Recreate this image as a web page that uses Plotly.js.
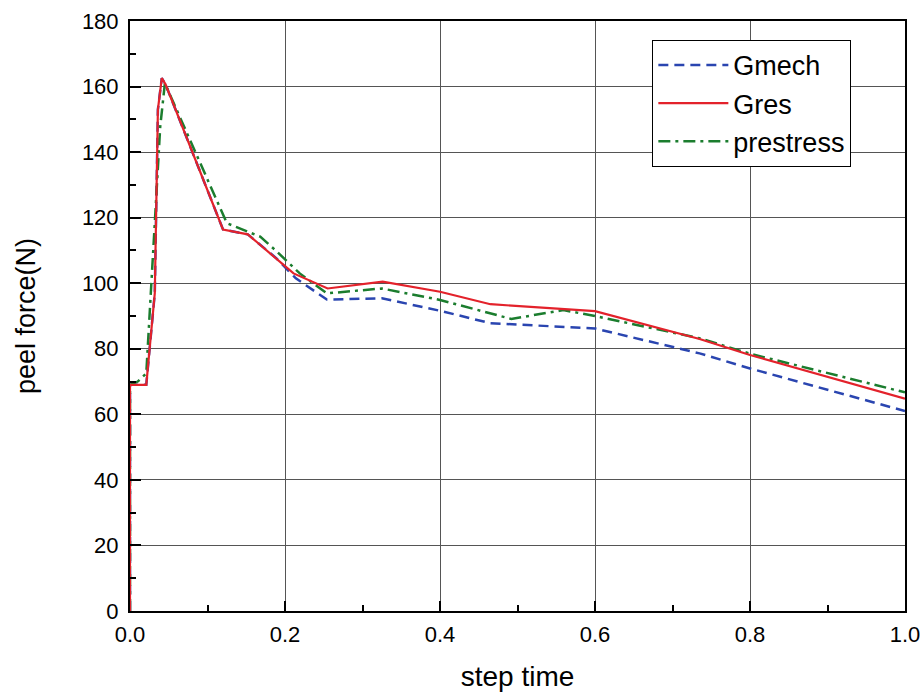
<!DOCTYPE html>
<html>
<head>
<meta charset="utf-8">
<script src="https://cdn.plot.ly/plotly-3.0.1.min.js"></script>
<style>html,body{margin:0;padding:0;background:#fff;}#chart{width:923px;height:693px;}</style>
</head>
<body>
<div id="chart"></div>
<script>
// Gmech (dashed blue)
const gmechX = [0, 0, 0.021, 0.032, 0.036, 0.041, 0.046, 0.12, 0.152, 0.189, 0.214, 0.254, 0.325, 0.4, 0.465, 0.6, 0.735, 0.8, 1.0];
const gmechY = [0, 69, 69, 97, 153, 162.6, 160.6, 116.4, 114.9, 107.6, 101.5, 95, 95.4, 91.6, 87.8, 86.2, 78.6, 74, 61];
// Gres (solid red)
const gresX = [0, 0, 0.021, 0.032, 0.036, 0.041, 0.046, 0.12, 0.152, 0.211, 0.255, 0.326, 0.4, 0.465, 0.6, 0.735, 0.8, 1.0];
const gresY = [0, 69, 69, 97, 153, 162.6, 160.6, 116.4, 114.9, 103, 98.4, 100.5, 97.4, 93.6, 91.5, 83, 78.1, 64.8];
// prestress (dash-dot green)
const preX = [0, 0, 0.01, 0.021, 0.039, 0.045, 0.125, 0.168, 0.188, 0.219, 0.254, 0.325, 0.4, 0.492, 0.559, 0.6, 0.735, 0.8, 1.0];
const preY = [0, 69, 70, 72.5, 147.8, 161, 118.3, 114.2, 110, 103, 96.9, 98.4, 94.9, 89.1, 91.8, 90, 83.2, 78.5, 66.7];

const xTicks = [0, 0.2, 0.4, 0.6, 0.8, 1.0];
const xTickText = ['0.0', '0.2', '0.4', '0.6', '0.8', '1.0'];
const yTicks = [0, 20, 40, 60, 80, 100, 120, 140, 160, 180];

const traces = [
  {x: gmechX, y: gmechY, name: 'Gmech', mode: 'lines', legendrank: 1,
   line: {color: '#2a45b0', width: 2.5, dash: '10px,6px'}},
  {x: preX, y: preY, name: 'prestress', mode: 'lines', legendrank: 3,
   line: {color: '#1b7d2e', width: 2.5, dash: '12px,5px,3px,5px'}},
  {x: gresX, y: gresY, name: 'Gres', mode: 'lines', legendrank: 2,
   line: {color: '#e3222b', width: 2.2}}
];

const font = {family: 'Liberation Sans, Arial, sans-serif', color: '#000'};

const layout = {
  width: 923, height: 693,
  margin: {l: 130, r: 18, t: 21, b: 82},
  paper_bgcolor: '#fff', plot_bgcolor: '#fff',
  font: Object.assign({size: 22}, font),
  showlegend: true,
  legend: {
    x: 0.674, y: 0.968, xanchor: 'left', yanchor: 'top',
    bgcolor: '#fff', bordercolor: '#000', borderwidth: 1,
    font: Object.assign({size: 27}, font),
    tracegroupgap: 0, itemwidth: 70
  },
  xaxis: {
    range: [0, 1], tickvals: xTicks, ticktext: xTickText,
    showgrid: true, gridcolor: '#555', gridwidth: 1,
    showline: true, linecolor: '#000', linewidth: 2, mirror: true,
    ticks: 'inside', ticklen: 10, tickwidth: 2, tickcolor: '#000',
    minor: {dtick: 0.1, ticks: 'inside', ticklen: 6, tickwidth: 2, tickcolor: '#000', showgrid: false},
    zeroline: false, ticklabelstandoff: 3,
    tickfont: Object.assign({size: 22}, font),
    title: {text: 'step time', font: Object.assign({size: 28}, font), standoff: 20}
  },
  yaxis: {
    range: [0, 180], tickvals: yTicks,
    showgrid: true, gridcolor: '#555', gridwidth: 1,
    showline: true, linecolor: '#000', linewidth: 2, mirror: true,
    ticks: 'inside', ticklen: 11, tickwidth: 2, tickcolor: '#000',
    minor: {dtick: 10, ticks: 'inside', ticklen: 6, tickwidth: 2, tickcolor: '#000', showgrid: false},
    zeroline: false, ticklabelstandoff: 5,
    tickfont: Object.assign({size: 22}, font),
    title: {text: 'peel force(N)', font: Object.assign({size: 27}, font), standoff: 38}
  }
};

Plotly.newPlot('chart', traces, layout, {displayModeBar: false, staticPlot: true});
</script>
</body>
</html>
